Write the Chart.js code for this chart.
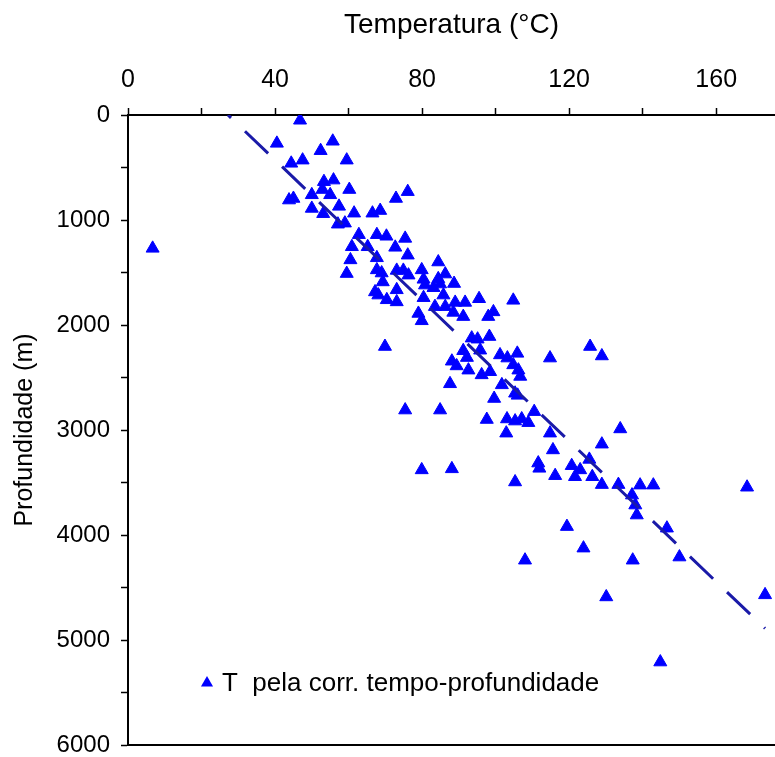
<!DOCTYPE html>
<html><head><meta charset="utf-8">
<script src="https://cdn.jsdelivr.net/npm/chart.js@4.4.0/dist/chart.umd.min.js"></script>
<style>html,body{margin:0;padding:0;background:#fff}#wrap{width:775px;height:757px}</style>
</head><body><div id="wrap"><canvas id="c" width="775" height="757"></canvas></div>
<script>
// Temperatura (°C) of each point
const temperatura = [
  6.7,46.8,40.5,55.7,52.4,47.5,44.4,59.5,53.3,55.9,60.2,50.0,52.9,55.0,43.8,45.0,50.0,53.1,57.4,61.5,
  66.5,68.6,72.9,76.1,57.1,59.0,62.8,67.7,70.3,75.4,
  60.9,65.2,72.7,60.5,67.7,76.1,59.5,67.7,69.0,73.1,74.9,76.3,79.9,84.4,86.3,69.3,73.1,67.2,68.1,70.4,
  73.1,80.4,80.8,84.4,84.9,83.1,88.7,80.4,85.8,95.5,104.8,
  79.0,79.9,83.5,86.3,89.0,91.7,88.5,91.2,99.4,98.0,93.5,95.1,98.3,91.2,92.2,95.8,88.1,89.4,92.6,96.2,
  98.5,101.2,103.2,105.9,104.8,106.2,106.7,114.8,69.9,87.6,101.7,105.3,106.0,99.6,125.7,128.9,
  75.4,84.9,97.6,103.1,105.3,107.1,108.9,110.5,102.9,114.8,115.6,111.6,111.9,116.2,120.7,123.0,121.6,126.3,125.5,128.9,
  133.9,79.9,88.1,105.3,128.9,133.4,139.3,142.9,137.1,138.0,138.4,146.6,168.4,119.4,123.9,108.0,137.3,150.0,130.1,173.3,
  144.8
];
// Profundidade (m) of each point
const profundidade = [
  1270,50,270,250,340,430,460,430,635,620,710,760,710,760,810,795,890,940,870,935,
  935,910,795,730,1040,1030,1140,1140,1155,1175,
  1255,1255,1260,1380,1360,1335,1510,1475,1505,1480,1480,1525,1475,1400,1515,1590,1665,1685,1715,1760,
  1780,1565,1620,1560,1610,1645,1605,1740,1715,1750,1765,
  1890,1960,1825,1825,1785,1785,1880,1920,1875,1920,2125,2135,2110,2245,2310,2240,2345,2390,2430,2475,
  2445,2285,2315,2270,2380,2430,2490,2315,2205,2560,2570,2650,2670,2700,2205,2295,
  2810,2810,2900,2895,2915,2895,2930,2825,3030,3030,3190,3315,3365,3435,3340,3380,3445,3445,3280,3135,
  2990,3380,3370,3495,3520,3520,3525,3525,3620,3715,3810,3935,3545,3920,4125,4240,4240,4210,4590,4570,
  5210
];
// dashed trend line end points
const trendTemp = [27.2, 173.3];
const trendDepth = [0, 4890];
// axis ticks
const xTickValues = [0,20,40,60,80,100,120,140,160];
const xTickLabels = [0,40,80,120,160];
const yTickValues = [0,500,1000,1500,2000,2500,3000,3500,4000,4500,5000,5500,6000];
const yTickLabels = [0,1000,2000,3000,4000,5000,6000];
const seriesLabel = 'T  pela corr. tempo-profundidade';

const FONT = 'Liberation Sans';
const pts = temperatura.map((t,i)=>({x:t, y:profundidade[i]}));
const trend = trendTemp.map((t,i)=>({x:t, y:trendDepth[i]}));

function noPad(s){ s.paddingTop = 0; s.paddingBottom = 0; s.paddingLeft = 0; s.paddingRight = 0; }

const inLegend = {
  id:'inLegend',
  afterDraw(chart){
    const ctx = chart.ctx, a = chart.chartArea;
    const x = a.left + 79, y = a.bottom - 62;
    ctx.save();
    ctx.fillStyle = '#0000ff';
    const r = 7;
    ctx.beginPath();
    ctx.moveTo(x, y - r);
    ctx.lineTo(x + r*0.866, y + r/2);
    ctx.lineTo(x - r*0.866, y + r/2);
    ctx.closePath();
    ctx.fill();
    ctx.fillStyle = '#000';
    ctx.font = '26px "' + FONT + '"';
    ctx.textBaseline = 'middle';
    ctx.textAlign = 'left';
    ctx.fillText(chart.data.datasets[1].label, x + 15, y + 1);
    ctx.restore();
  }
};

new Chart(document.getElementById('c'), {
  type:'scatter',
  data:{ datasets:[
    { type:'line', label:'tendência', data:trend, showLine:true, borderColor:'#1a1aa8', borderWidth:3,
      borderDash:[32,19.3], borderDashOffset:27.8, pointRadius:0, fill:false, xAxisID:'x', yAxisID:'y' },
    { label:seriesLabel, data:pts, pointStyle:'triangle', pointRadius:7.5, borderWidth:1,
      backgroundColor:'#0000ff', borderColor:'#0000ff', pointHoverRadius:7.5, xAxisID:'x', yAxisID:'y' }
  ]},
  options:{
    responsive:false, animation:false, devicePixelRatio:1,
    layout:{ padding:0, autoPadding:false },
    plugins:{ legend:{display:false}, tooltip:{enabled:false} },
    scales:{
      x:{ type:'linear', position:'top', min:0, max:176,
        afterBuildTicks:s=>{ s.ticks = xTickValues.map(v=>({value:v})); },
        afterFit:s=>{ s.height = 115; noPad(s); },
        ticks:{ autoSkip:false, maxRotation:0, padding:13, color:'#000',
          font:{family:FONT, size:25},
          callback:v=> xTickLabels.includes(v) ? String(v) : '' },
        grid:{ drawOnChartArea:false, drawTicks:true, tickLength:7, tickWidth:1.5, tickColor:'#000' },
        border:{ display:true, color:'#000', width:2 },
        title:{ display:true, text:'Temperatura (°C)', color:'#000', font:{family:FONT, size:28}, padding:{top:8, bottom:0} }
      },
      x2:{ type:'linear', position:'bottom', min:0, max:176, display:true,
        afterFit:s=>{ s.height = 12; noPad(s); },
        ticks:{ display:false }, grid:{ drawOnChartArea:false, drawTicks:false },
        border:{ display:true, color:'#000', width:2 } },
      y:{ type:'linear', position:'left', reverse:true, min:0, max:6000,
        afterBuildTicks:s=>{ s.ticks = yTickValues.map(v=>({value:v})); },
        afterFit:s=>{ s.width = 128; noPad(s); },
        ticks:{ autoSkip:false, padding:11, color:'#000', font:{family:FONT, size:24},
          callback:v=> yTickLabels.includes(v) ? String(v) : '' },
        grid:{ drawOnChartArea:false, drawTicks:true, tickLength:7, tickWidth:1.5, tickColor:'#000' },
        border:{ display:true, color:'#000', width:2 },
        title:{ display:true, text:'Profundidade (m)', color:'#000', font:{family:FONT, size:25}, padding:{top:10, bottom:0} }
      }
    }
  },
  plugins:[inLegend]
});
</script>
</body></html>
